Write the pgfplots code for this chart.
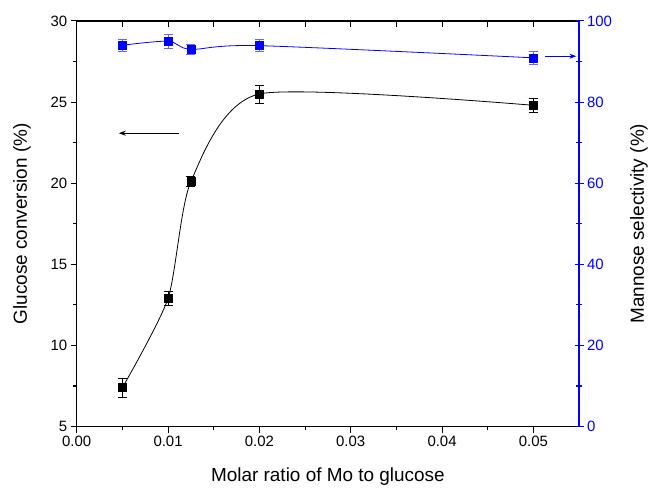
\documentclass[border=0pt]{standalone}
\usepackage{fontspec}
\setmainfont{Liberation Sans}
\usepackage{pgfplots}
\usepackage{pgfplotstable}
\pgfplotsset{compat=1.18}
\usetikzlibrary{arrows.meta}

\pgfplotstableread{
x y e
0.005 7.4 0.6
0.01 12.9 0.42
0.0125 20.1 0.3
0.02 25.5 0.55
0.05 24.8 0.42
}\conv
\pgfplotstableread{
x y e
0.005 94.0 1.4
0.01 95.0 1.7
0.0125 93.0 1.2
0.02 93.9 1.5
0.05 90.9 1.5
}\sel

\begin{document}
\begin{tikzpicture}
\pgfplotsset{every axis/.append style={
  scale only axis, width=504pt, height=407pt,
  xmin=0, xmax=5.5,
  /pgf/number format/assume math mode=true,
  tick label style={font=\fontsize{15}{17}\selectfont},
  label style={font=\fontsize{19}{22}\selectfont},
}}
\begin{axis}[
  clip=false,
  ymin=5, ymax=30,
  xtick={0,1,2,3,4,5},
  ytick={5,10,15,20,25,30},
  xticklabels={0.00,0.01,0.02,0.03,0.04,0.05},
  xtick pos=bottom, ytick pos=left,
  tick align=outside,
  axis line style={line width=1.2pt},
  major tick length=6pt,
  tick style={draw=none},
  xlabel={Molar ratio of Mo to glucose},
  ylabel={Glucose conversion (\%)},
  xlabel style={at={(axis description cs:0.5,-0.123)}, anchor=center},
  ylabel style={at={(axis description cs:-0.109,0.5)}, anchor=center},
]
% frame of the picture, as in the reference
\path (axis cs:-0.84,1.19) (axis cs:6.264,31.29);
% tick marks (1 x unit = 91.6pt, 1 y unit = 16.3pt)
\pgfplotsinvokeforeach{0,1,2,3,4,5}{
  \draw[line width=1.1pt] (axis cs:#1,5) -- (axis cs:#1,4.63);
  \draw[line width=1.1pt] (axis cs:#1,30) -- (axis cs:#1,29.63);}
\pgfplotsinvokeforeach{0.5,1.5,2.5,3.5,4.5}{
  \draw[line width=1.1pt] (axis cs:#1,5) -- (axis cs:#1,4.785);
  \draw[line width=1.1pt] (axis cs:#1,30) -- (axis cs:#1,29.63);}
\pgfplotsinvokeforeach{5,10,15,20,25,30}{
  \draw[line width=1.1pt] (axis cs:0,#1) -- (axis cs:-0.0655,#1);}
\pgfplotsinvokeforeach{7.5,12.5,17.5,22.5,27.5}{
  \draw[line width=1.1pt] (axis cs:0,#1) -- (axis cs:-0.038,#1);}
\addplot[black, line width=0.8pt, smooth, tension=0.4] table[x expr=\thisrow{x}*100,y=y] {\conv};
\addplot[black, only marks, mark=square*, mark size=4pt,
  error bars/.cd, y dir=both, y explicit,
  error bar style={line width=0.7pt}, error mark options={rotate=90, mark size=4.5pt, line width=0.7pt}]
  table[x expr=\thisrow{x}*100,y=y,y error=e] {\conv};
\draw[black, line width=0.8pt, -{Stealth[length=7pt,width=5pt]}] (axis cs:1.116,23.08) -- (axis cs:0.461,23.08);
\end{axis}

\begin{axis}[
  ymin=0, ymax=100,
  ytick={0,20,40,60,80,100},
  minor y tick num=1,
  axis y line*=right, axis x line=none,
  tick align=center,
  major tick length=9pt, minor tick length=6pt,
  y axis line style={blue, line width=1.2pt, -},
  ytick style={blue, line width=1.1pt},
  yticklabel style={blue},
  ylabel={Mannose selectivity (\%)},
  ylabel style={at={(axis description cs:1.119,0.5)}, anchor=center, black},
]
\addplot[blue, line width=0.8pt, smooth] table[x expr=\thisrow{x}*100,y=y] {\sel};
\addplot[blue, only marks, mark=square*, mark size=4pt,
  error bars/.cd, y dir=both, y explicit,
  error bar style={line width=0.7pt, blue!60}, error mark options={rotate=90, mark size=4.5pt, line width=0.7pt, blue!60}]
  table[x expr=\thisrow{x}*100,y=y,y error=e] {\sel};
\draw[blue, line width=0.8pt, -{Stealth[length=7pt,width=5pt]}] (axis cs:5.13,91.3) -- (axis cs:5.47,91.3);
\end{axis}
\end{tikzpicture}
\end{document}
